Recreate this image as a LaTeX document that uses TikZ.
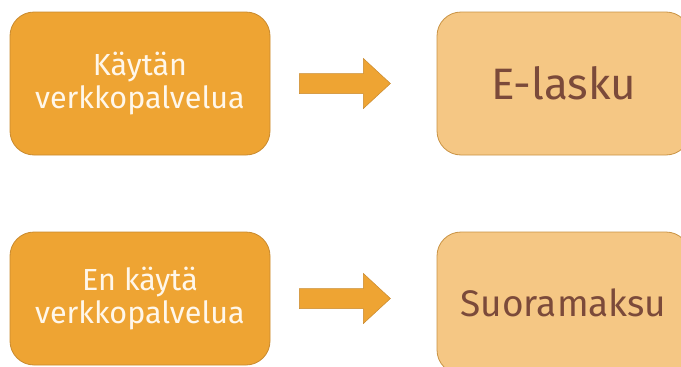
\documentclass[tikz,border=0pt]{standalone}
\usepackage{fontspec}
\setmainfont{Fira Sans}
\usetikzlibrary{calc}

\definecolor{darkfill}{HTML}{EEA433}
\definecolor{darkline}{HTML}{C98A2E}
\definecolor{lightfill}{HTML}{F5C784}
\definecolor{lightline}{HTML}{C99344}
\definecolor{browntext}{HTML}{7B4A3A}
\definecolor{creamtext}{HTML}{FFF7EA}

\tikzset{
  choicebox/.style={draw=darkline, fill=darkfill, line width=0.8pt,
    rounded corners=24pt, minimum width=260pt, align=center,
    text=creamtext, font=\fontsize{30.5}{33}\selectfont, inner sep=0pt},
  resultbox/.style={draw=lightline, fill=lightfill, line width=0.8pt,
    rounded corners=24pt, minimum width=253pt, align=center,
    text=browntext, inner sep=0pt},
  blockarrow/.style={draw=darkline, fill=darkfill, line width=0.5pt}
}

\begin{document}
\begin{tikzpicture}[x=1pt,y=-1pt]
  \useasboundingbox (0,0) rectangle (681,367);
  \clip (0,0) rectangle (681,367);

  % upper row
  \node[choicebox, minimum height=143pt] (use) at (140,83.5) {Käytän\\verkkopalvelua};
  \node[resultbox, minimum height=143pt, font=\fontsize{44}{48}\selectfont] (ebill) at (563.5,83.5) {E-lasku};

  % lower row
  \node[choicebox, minimum height=133pt] (nouse) at (140,298.5) {En käytä\\verkkopalvelua};
  \node[resultbox, minimum height=142pt, font=\fontsize{37}{40}\selectfont] (direct) at (563.5,303) {Suoramaksu};

  % block arrows between the rows' boxes
  \foreach \src in {use, nouse} {
    \draw[blockarrow] ($(\src.east)+(29,0)$) ++(0,-10) -- ++(64,0) -- ++(0,-15)
      -- ++(27,25) -- ++(-27,25) -- ++(0,-15) -- ++(-64,0) -- cycle;
  }
\end{tikzpicture}
\end{document}
